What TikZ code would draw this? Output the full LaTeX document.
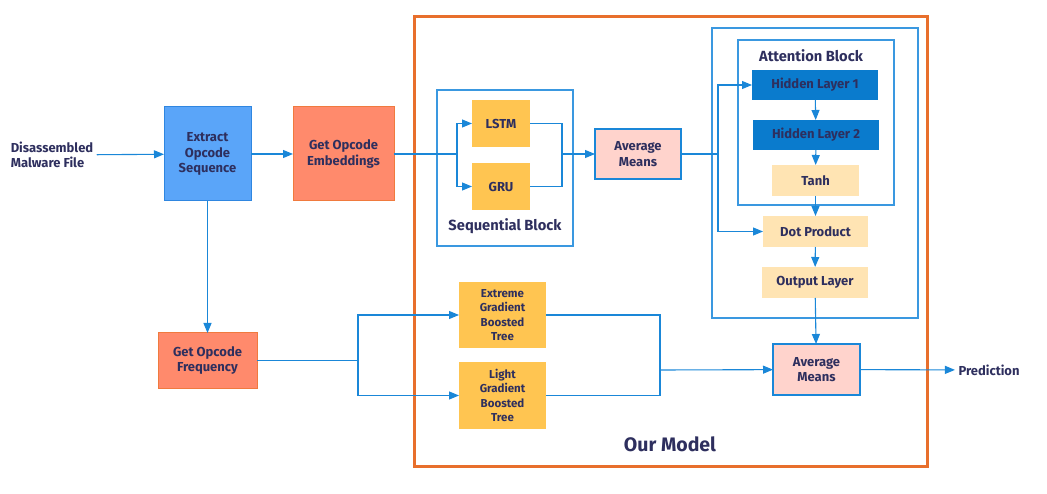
\documentclass[tikz,border=0pt]{standalone}
\usepackage{fontspec}
\setmainfont{Fira Sans}
\usetikzlibrary{arrows.meta,positioning}
\definecolor{ink}{HTML}{2E2F5E}
\definecolor{wire}{HTML}{1A87D8}
\definecolor{frame}{HTML}{3A98E0}
\definecolor{skyfill}{HTML}{5AA5F9}
\definecolor{skyline}{HTML}{2F86E0}
\definecolor{salmon}{HTML}{FF8A6C}
\definecolor{salmonline}{HTML}{F07A3E}
\definecolor{amber}{HTML}{FFC551}
\definecolor{rosy}{HTML}{FFD3CC}
\definecolor{deepblue}{HTML}{0A7BCD}
\definecolor{peach}{HTML}{FFE4B3}
\definecolor{model}{HTML}{E86F2C}

\begin{document}
\begin{tikzpicture}[x=1pt, y=-1pt,
 font=\bfseries\fontsize{13}{15.5}\selectfont, text=ink,
    B/.style = {rectangle, align=center, inner sep=1pt,% common style of all boxes
                outer sep=0pt},
    BS/.style = {B, draw=skyline, line width=1pt, fill=skyfill},
    BO/.style = {B, draw=salmonline, line width=1pt, fill=salmon},
    BY/.style = {B, fill=amber},
    BP/.style = {B, draw=wire, line width=1.2pt, fill=rosy},
    BD/.style = {B, fill=deepblue},
    BL/.style = {B, fill=peach},
    line/.style = {draw=wire, line width=1.1pt},
     arr/.style = {line, -{Triangle[length=10pt,width=8pt]}},
   block/.style = {draw=frame, line width=1.2pt},
   title/.style = {font=\bfseries\fontsize{14.7}{17}\selectfont},
                        ]
\useasboundingbox (0,0) rectangle (1047,494);
% frames
\draw[model, line width=3pt] (414,17) rectangle (927,466);
\node[font=\bfseries\fontsize{19.5}{22}\selectfont] (ourmodel) at (670,444) {Our Model};
\draw[block] (437,90) rectangle (573,246);
\node[title] (seqlabel) at (505,226) {Sequential Block};
\draw[block] (712,28) rectangle (918,318);
\draw[block] (738,40) rectangle (894,205);
\node[title] (attlabel) at (811,56) {Attention Block};
% boxes
\node[align=left] (in) at (52,155) {Disassembled\\Malware File};
\node[BS, minimum width=87, minimum height=94] (ext) at (207.5,154) {Extract\\Opcode\\Sequence};
\node[BO, minimum width=101, minimum height=94] (emb) at (343.5,154) {Get Opcode\\Embeddings};
\node[BO, minimum width=99, minimum height=55] (frq) at (207.5,360.5) {Get Opcode\\Frequency};
\node[BY, minimum width=58, minimum height=47] (lstm) at (501,123.5) {LSTM};
\node[BY, minimum width=58, minimum height=47] (gru) at (501,186.5) {GRU};
\node[BP, minimum width=86, minimum height=50] (am1) at (638,154) {Average\\Means};
\node[BD, minimum width=126, minimum height=30] (hl1) at (815,85) {Hidden Layer 1};
\node[BD, minimum width=126, minimum height=30] (hl2) at (816,135) {Hidden Layer 2};
\node[BL, minimum width=87, minimum height=31] (tanh) at (815.5,180.5) {Tanh};
\node[BL, minimum width=105, minimum height=31] (dot) at (815.5,231.5) {Dot Product};
\node[BL, minimum width=106, minimum height=31] (out) at (815,282.5) {Output Layer};
\node[BP, minimum width=87, minimum height=51] (am2) at (816.5,369.5) {Average\\Means};
\node[BY, minimum width=87, minimum height=66,
      font=\bfseries\fontsize{11.5}{14.5}\selectfont] (xgb) at (502.5,315) {Extreme\\Gradient\\Boosted\\Tree};
\node[BY, minimum width=87, minimum height=67,
      font=\bfseries\fontsize{11.5}{14.5}\selectfont] (lgb) at (502.5,395.5) {Light\\Gradient\\Boosted\\Tree};
\node (pred) at (989,370) {Prediction};
% junctions
\coordinate (sj) at (457,154);
\coordinate (sm) at (562,154);
\coordinate (aj) at (718,154);
\coordinate (fj) at (358,360.5);
\coordinate (gj) at (660,370);
% connectors
\draw[arr] (in) -- (ext);
\draw[arr] (ext) -- (emb);
\draw[arr] (ext) -- (frq);
\draw[line] (emb) -- (sj);
\draw[arr] (sj) |- (lstm);
\draw[arr] (sj) |- (gru);
\draw[line] (lstm) -| (sm);
\draw[line] (gru) -| (sm);
\draw[arr] (sm) -- (am1);
\draw[line] (am1) -- (aj);
\draw[arr] (aj) |- (hl1);
\draw[arr] (aj) |- (dot);
\foreach \a/\b in {hl1/hl2,hl2/tanh,tanh/dot,dot/out,out/am2}% <-- vertical stack
    \draw[arr] (\a) -- (\b);
\draw[line] (frq) -- (fj);
\draw[arr] (fj) |- (xgb);
\draw[arr] (fj) |- (lgb);
\draw[line] (xgb) -| (gj);
\draw[line] (lgb) -| (gj);
\draw[arr] (gj) -- (am2);
\draw[arr] (am2) -- (pred);
\end{tikzpicture}
\end{document}
